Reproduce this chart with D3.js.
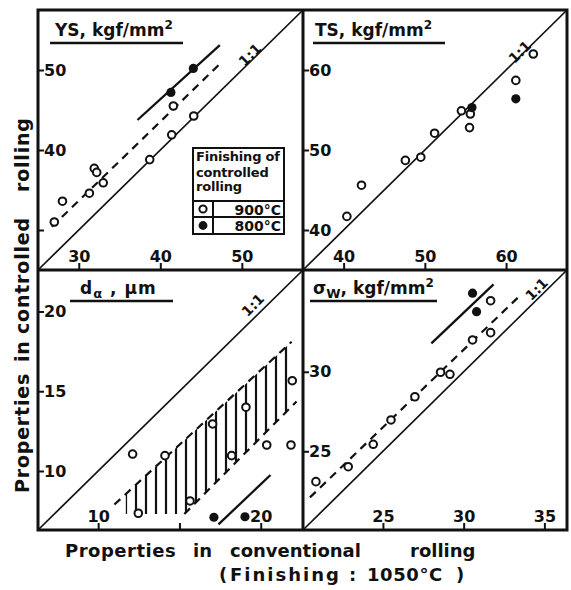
<!DOCTYPE html>
<html>
<head>
<meta charset="utf-8">
<script src="https://cdn.jsdelivr.net/npm/d3@7"></script>
<style>
  body { margin: 0; background: #fff; }
  svg { display: block; }
  text { font-family: "DejaVu Sans", sans-serif; font-weight: bold; fill: #111; }
</style>
</head>
<body>
<svg id="chart" width="571" height="590"></svg>
<script>
// ---- Yield strength YS (kgf/mm2): [conventional, controlled] ----
const ysOpen = [[27.0, 31.0], [28.0, 33.6], [31.3, 34.6], [31.9, 37.7], [32.2, 37.2],
                [33.0, 35.9], [38.7, 38.8], [41.4, 41.9], [44.1, 44.25], [41.6, 45.5]];
const ysFilled = [[41.3, 47.2], [44.05, 50.2]];
const ysTrend900 = [[26.7, 30.4], [47.65, 51.1]];
const ysTrend800 = [[37.2, 43.75], [47.3, 53.1]];
const ysXTicks = [30, 40, 50], ysXLabels = ["30", "40", "50"];
const ysYTicks = [30, 40, 50], ysYLabels = ["", "40", "50"];

// ---- Tensile strength TS (kgf/mm2) ----
const tsOpen = [[40.4, 41.7], [42.2, 45.6], [47.6, 48.7], [49.5, 49.1], [51.2, 52.1],
                [54.5, 54.9], [55.6, 54.5], [55.5, 52.8], [61.2, 58.7], [63.35, 62.0]];
const tsFilled = [[55.8, 55.3], [61.2, 56.4]];
const tsXTicks = [40, 50, 60], tsXLabels = ["40", "50", "60"];
const tsYTicks = [40, 50, 60], tsYLabels = ["40", "50", "60"];

// ---- Ferrite grain size d_alpha (um) ----
const daOpen = [[12.12, 11.06], [12.47, 7.35], [14.11, 10.96], [15.65, 8.12], [17.04, 12.95],
                [18.21, 10.96], [19.09, 14.0], [20.37, 11.63], [21.86, 11.63], [21.94, 15.66]];
const daFilled = [[17.12, 7.1], [19.03, 7.13]];
const daBandUpper = [[11.0, 7.9], [21.9, 18.1]];
const daBandLower = [[15.3, 7.3], [22.2, 14.35]];
const daBandArea = [[11.7, 8.55], [21.9, 18.1], [21.9, 14.04], [15.3, 7.3], [11.7, 7.3]];
const daTrend800 = [[17.4, 6.65], [20.6, 9.75]];
const daXTicks = [10, 15, 20], daXLabels = ["10", "", "20"];
const daYTicks = [10, 15, 20], daYLabels = ["10", "15", "20"];

// ---- Fatigue strength sigma_w (kgf/mm2) ----
const swOpen = [[20.85, 23.09], [22.85, 24.03], [24.4, 25.44], [25.5, 26.97], [26.98, 28.43],
                [28.57, 29.97], [29.15, 29.84], [30.55, 32.0], [31.67, 32.46], [31.67, 34.47]];
const swFilled = [[30.55, 34.94], [30.8, 33.78]];
const swTrend900 = [[20.48, 22.1], [33.6, 34.9]];
const swTrend800 = [[28.0, 31.79], [31.85, 35.5]];
const swXTicks = [25, 30, 35], swXLabels = ["25", "30", "35"];
const swYTicks = [25, 30], swYLabels = ["25", "30"];

const ink = "#111";
const svg = d3.select("#chart");

const defs = svg.append("defs");
defs.append("pattern")
  .attr("id", "vhatch")
  .attr("patternUnits", "userSpaceOnUse")
  .attr("width", 10).attr("height", 10)
  .append("line")
  .attr("x1", 6).attr("x2", 6).attr("y1", 0).attr("y2", 10)
  .attr("stroke", ink).attr("stroke-width", 2.2);

// panel layout: [left, top, right, bottom] in px; rule = title underline x-range
const panels = [
  { box: [38, 10, 303, 270], domain: [25, 57.5],
    xTicks: ysXTicks, xLabels: ysXLabels, yTicks: ysYTicks, yLabels: ysYLabels,
    open: ysOpen, filled: ysFilled, dashed: [ysTrend900], solid: [ysTrend800],
    ratioAt: [51.0, 51.9],
    title: { x: 55, y: 36, rule: [50, 183], parts: [["YS, kgf/mm", null], ["2", "sup"]] } },
  { box: [303, 10, 567, 270], domain: [35, 67.5],
    xTicks: tsXTicks, xLabels: tsXLabels, yTicks: tsYTicks, yLabels: tsYLabels,
    open: tsOpen, filled: tsFilled, dashed: [], solid: [],
    ratioAt: [61.7, 62.25],
    title: { x: 315, y: 36, rule: [313, 445], parts: [["TS, kgf/mm", null], ["2", "sup"]] } },
  { box: [38, 270, 303, 530], domain: [6.3, 22.6],
    xTicks: daXTicks, xLabels: daXLabels, yTicks: daYTicks, yLabels: daYLabels,
    open: daOpen, filled: daFilled, dashed: [daBandUpper, daBandLower], solid: [daTrend800],
    band: daBandArea,
    ratioAt: [19.52, 20.4],
    title: { x: 80, y: 294, rule: [70, 173], spacing: "1px",
             parts: [["d", null], ["α", "sub"], [" , μm", null]] } },
  { box: [303, 270, 567, 530], domain: [20.05, 36.4],
    xTicks: swXTicks, xLabels: swXLabels, yTicks: swYTicks, yLabels: swYLabels,
    open: swOpen, filled: swFilled, dashed: [swTrend900], solid: [swTrend800],
    ratioAt: [34.52, 35.19],
    title: { x: 313, y: 294, rule: [310, 437],
             parts: [["σ", null], ["W", "sub"], [", kgf/mm", null], ["2", "sup"]] } }
];

panels.forEach(p => {
  const [x0, y0, x1, y1] = p.box;
  const x = d3.scaleLinear().domain(p.domain).range([x0, x1]);
  const y = d3.scaleLinear().domain(p.domain).range([y1, y0]);
  const line = d3.line().x(d => x(d[0])).y(d => y(d[1]));
  const g = svg.append("g");

  // hatched scatter band
  if (p.band) {
    g.append("path")
      .attr("d", line(p.band) + "Z")
      .attr("fill", "url(#vhatch)")
      .attr("stroke", "none");
  }

  // 1:1 line
  g.append("path")
    .attr("d", line([[p.domain[0], p.domain[0]], [p.domain[1], p.domain[1]]]))
    .attr("stroke", ink).attr("stroke-width", 1.7).attr("fill", "none");

  g.append("text")
    .attr("transform", `translate(${x(p.ratioAt[0])},${y(p.ratioAt[1])}) rotate(-45)`)
    .attr("text-anchor", "middle")
    .attr("dy", "0.35em")
    .style("font-size", "14px")
    .text("1:1");

  // trend lines
  p.dashed.forEach(seg => {
    g.append("path").attr("d", line(seg))
      .attr("stroke", ink).attr("stroke-width", 2.2)
      .attr("stroke-dasharray", "8,6").attr("fill", "none");
  });
  p.solid.forEach(seg => {
    g.append("path").attr("d", line(seg))
      .attr("stroke", ink).attr("stroke-width", 2.3).attr("fill", "none");
  });

  // markers
  g.selectAll("circle.open").data(p.open).join("circle")
    .attr("class", "open")
    .attr("cx", d => x(d[0])).attr("cy", d => y(d[1])).attr("r", 3.8)
    .attr("fill", "#fff").attr("stroke", ink).attr("stroke-width", 2);
  g.selectAll("circle.filled").data(p.filled).join("circle")
    .attr("class", "filled")
    .attr("cx", d => x(d[0])).attr("cy", d => y(d[1])).attr("r", 4.6)
    .attr("fill", ink).attr("stroke", "none");

  // axes with inward ticks
  const xa = g.append("g").attr("transform", `translate(0,${y1})`)
    .call(d3.axisTop(x).tickValues(p.xTicks).tickFormat((d, i) => p.xLabels[i])
      .tickSize(7).tickPadding(1));
  const ya = g.append("g").attr("transform", `translate(${x0},0)`)
    .call(d3.axisRight(y).tickValues(p.yTicks).tickFormat((d, i) => p.yLabels[i])
      .tickSize(6).tickPadding(0));
  [xa, ya].forEach(a => {
    a.attr("font-family", null).attr("font-size", null);
    a.select(".domain").remove();
    a.selectAll(".tick line").attr("stroke", ink).attr("stroke-width", 2);
    a.selectAll(".tick text").style("font-size", "16px").attr("fill", ink);
  });

  // title with underline
  const t = g.append("text")
    .attr("x", p.title.x).attr("y", p.title.y)
    .style("font-size", "17px")
    .style("letter-spacing", p.title.spacing || "0px");
  let shift = 0;
  p.title.parts.forEach(([s, kind]) => {
    const ts = t.append("tspan").text(s);
    const target = kind === "sup" ? -7 : kind === "sub" ? 4 : 0;
    if (target !== shift) ts.attr("dy", target - shift);
    shift = target;
    if (kind) ts.style("font-size", kind === "sub" ? "13px" : "12px");
  });
  g.append("line")
    .attr("x1", p.title.rule[0]).attr("x2", p.title.rule[1])
    .attr("y1", p.title.y + 7).attr("y2", p.title.y + 7)
    .attr("stroke", ink).attr("stroke-width", 2.4);
});

// frame and dividers
svg.append("rect")
  .attr("x", 38).attr("y", 10).attr("width", 529).attr("height", 520)
  .attr("fill", "none").attr("stroke", ink).attr("stroke-width", 3);
svg.append("line").attr("x1", 303).attr("x2", 303).attr("y1", 10).attr("y2", 530)
  .attr("stroke", ink).attr("stroke-width", 3);
svg.append("line").attr("x1", 38).attr("x2", 567).attr("y1", 270).attr("y2", 270)
  .attr("stroke", ink).attr("stroke-width", 3);

// legend
const lg = svg.append("g");
lg.append("rect").attr("x", 193).attr("y", 148).attr("width", 91).attr("height", 86)
  .attr("fill", "#fff").attr("stroke", ink).attr("stroke-width", 2);
[["Finishing of", 161], ["controlled", 177], ["rolling", 191]].forEach(([s, yy]) => {
  lg.append("text").attr("x", 196).attr("y", yy).style("font-size", "13px")
    .style("letter-spacing", "-0.2px").text(s);
});
lg.append("line").attr("x1", 193).attr("x2", 284).attr("y1", 201).attr("y2", 201)
  .attr("stroke", ink).attr("stroke-width", 2);
lg.append("line").attr("x1", 193).attr("x2", 284).attr("y1", 217).attr("y2", 217)
  .attr("stroke", ink).attr("stroke-width", 2);
lg.append("line").attr("x1", 213).attr("x2", 213).attr("y1", 201).attr("y2", 234)
  .attr("stroke", ink).attr("stroke-width", 2);
lg.append("circle").attr("cx", 203).attr("cy", 209).attr("r", 3.6)
  .attr("fill", "#fff").attr("stroke", ink).attr("stroke-width", 2);
lg.append("circle").attr("cx", 203).attr("cy", 225.5).attr("r", 4.4).attr("fill", ink);
lg.append("text").attr("x", 281).attr("y", 214.5).attr("text-anchor", "end")
  .style("font-size", "14px").text("900°C");
lg.append("text").attr("x", 281).attr("y", 231).attr("text-anchor", "end")
  .style("font-size", "14px").text("800°C");

// axis titles
const xt = svg.append("text").attr("y", 557).style("font-size", "18px");
[["Properties", 65, "0.5px"], ["in", 193, "0px"], ["conventional", 230, "0px"], ["rolling", 410, "0px"]]
  .forEach(([s, xx, ls]) => {
    xt.append("tspan").attr("x", xx).style("letter-spacing", ls).text(s);
  });
const xt2 = svg.append("text").attr("y", 581).style("font-size", "18px");
[["(", 219, "0px"], ["Finishing", 230, "2px"], [":", 349, "0px"], ["1050°C", 367, "0.6px"], [")", 456, "0px"]]
  .forEach(([s, xx, ls]) => {
    xt2.append("tspan").attr("x", xx).style("letter-spacing", ls).text(s);
  });
const yt = svg.append("text").attr("transform", "translate(29,0) rotate(-90)")
  .style("font-size", "19px").style("letter-spacing", "0.8px");
[["Properties", -493], ["in", -362], ["controlled", -334], ["rolling", -192]].forEach(([s, xx]) => {
  yt.append("tspan").attr("x", xx).text(s);
});
</script>
</body>
</html>
